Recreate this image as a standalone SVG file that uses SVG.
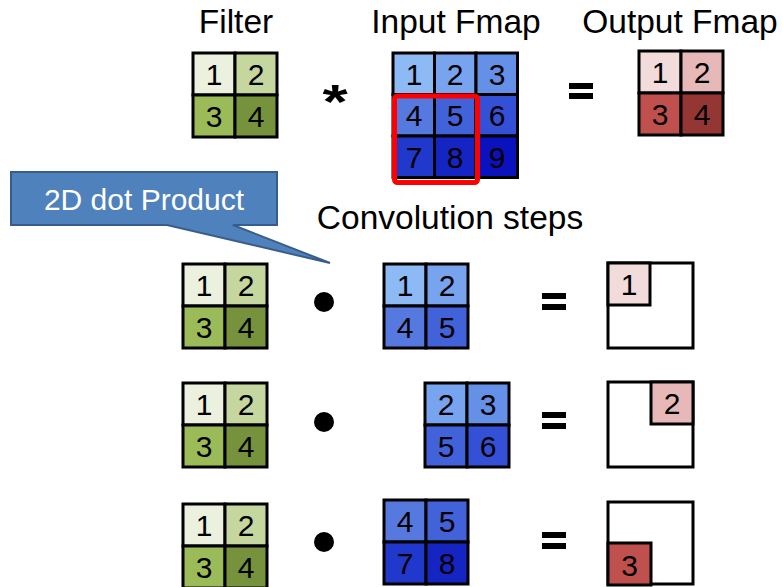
<svg xmlns="http://www.w3.org/2000/svg" width="783" height="587" viewBox="0 0 783 587">
<style>
.t{font-family:"Liberation Sans",Arial,sans-serif;fill:#000}
.title{font-size:33.5px;text-anchor:middle}
.n{font-size:30px;text-anchor:middle}
.c{stroke:#000;stroke-width:3}
.box{fill:#fff;stroke:#000;stroke-width:3}
.g1{fill:#EBF1DE}.g2{fill:#C5D69F}.g3{fill:#9BBB59}.g4{fill:#76923C}
.b1{fill:#8DB9F5}.b2{fill:#78A3EE}.b3{fill:#6490E8}.b4{fill:#5679E0}.b5{fill:#4262DA}.b6{fill:#3450D6}.b7{fill:#2039CC}.b8{fill:#1425C4}.b9{fill:#0A12BE}
.r1{fill:#F2DCDB}.r2{fill:#E6B9B8}.r3{fill:#C0504D}.r4{fill:#943634}
.eq{fill:#000}
</style>

<g id="titles">
<text class="t title" x="236" y="33">Filter</text>
<text class="t title" x="456" y="33">Input Fmap</text>
<text class="t title" x="680" y="33">Output Fmap</text>
<text class="t title" x="450" y="229">Convolution steps</text>
</g>

<!-- Top filter -->
<g id="filter-top">
<rect class="c g1" x="193" y="53" width="42" height="42"/>
<rect class="c g2" x="235" y="53" width="42" height="42"/>
<rect class="c g3" x="193" y="95" width="42" height="42"/>
<rect class="c g4" x="235" y="95" width="42" height="42"/>
<text class="t n" x="214" y="85">1</text><text class="t n" x="256" y="85">2</text>
<text class="t n" x="214" y="127">3</text><text class="t n" x="256" y="127">4</text>
</g>

<g id="op-conv"><text class="t" transform="translate(335,118) scale(1.35,1)" x="0" y="0" font-size="48" font-weight="bold" text-anchor="middle">*</text></g>

<!-- Top input fmap -->
<g id="input-top">
<rect class="c b1" x="393" y="53" width="41.5" height="41.5"/>
<rect class="c b2" x="434.5" y="53" width="41.5" height="41.5"/>
<rect class="c b3" x="476" y="53" width="41.5" height="41.5"/>
<rect class="c b4" x="393" y="94.5" width="41.5" height="41.5"/>
<rect class="c b5" x="434.5" y="94.5" width="41.5" height="41.5"/>
<rect class="c b6" x="476" y="94.5" width="41.5" height="41.5"/>
<rect class="c b7" x="393" y="136" width="41.5" height="41.5"/>
<rect class="c b8" x="434.5" y="136" width="41.5" height="41.5"/>
<rect class="c b9" x="476" y="136" width="41.5" height="41.5"/>
<text class="t n" x="414" y="85">1</text><text class="t n" x="455" y="85">2</text><text class="t n" x="497" y="85">3</text>
<text class="t n" x="414" y="126">4</text><text class="t n" x="455" y="126">5</text><text class="t n" x="497" y="126">6</text>
<text class="t n" x="414" y="168">7</text><text class="t n" x="455" y="168">8</text><text class="t n" x="497" y="168">9</text>
<rect x="394.5" y="96" width="83" height="86.5" rx="3" fill="none" stroke="#FF0000" stroke-width="5"/>
</g>

<g id="eq-top" class="eq"><rect x="569" y="83" width="24" height="6"/><rect x="569" y="93" width="24" height="6"/></g>

<!-- Top output -->
<g id="output-top">
<rect class="c r1" x="639" y="51" width="42" height="42"/>
<rect class="c r2" x="681" y="51" width="42" height="42"/>
<rect class="c r3" x="639" y="93" width="42" height="42"/>
<rect class="c r4" x="681" y="93" width="42" height="42"/>
<text class="t n" x="660" y="83">1</text><text class="t n" x="702" y="83">2</text>
<text class="t n" x="660" y="125">3</text><text class="t n" x="702" y="125">4</text>
</g>

<!-- Callout -->
<g id="callout">
<path d="M11,172 H277 V225 H233 L330,263 L167,225 H11 Z" fill="#4F81BD" stroke="#385D8A" stroke-width="2" stroke-linejoin="miter"/>
<text class="t" x="144" y="210" font-size="30" text-anchor="middle" style="fill:#fff">2D dot Product</text>
</g>

<!-- Row 1 -->
<g id="filter-r1">
<rect class="c g1" x="183" y="264" width="42" height="42"/>
<rect class="c g2" x="225" y="264" width="42" height="42"/>
<rect class="c g3" x="183" y="306" width="42" height="42"/>
<rect class="c g4" x="225" y="306" width="42" height="42"/>
<text class="t n" x="204" y="296">1</text><text class="t n" x="246" y="296">2</text>
<text class="t n" x="204" y="338">3</text><text class="t n" x="246" y="338">4</text>
</g>
<g id="dot-r1"><circle cx="324" cy="302" r="10" fill="#000"/></g>
<g id="input-r1">
<rect class="c b1" x="384" y="264" width="42" height="42"/>
<rect class="c b2" x="426" y="264" width="42" height="42"/>
<rect class="c b4" x="384" y="306" width="42" height="42"/>
<rect class="c b5" x="426" y="306" width="42" height="42"/>
<text class="t n" x="405" y="296">1</text><text class="t n" x="447" y="296">2</text>
<text class="t n" x="405" y="338">4</text><text class="t n" x="447" y="338">5</text>
</g>
<g id="eq-r1" class="eq"><rect x="542" y="293" width="24" height="6"/><rect x="542" y="304" width="24" height="6"/></g>
<g id="output-r1">
<rect class="box" x="608" y="263" width="85" height="85"/>
<rect class="c r1" x="608" y="263" width="42" height="42"/>
<text class="t n" x="629" y="295">1</text>
</g>

<!-- Row 2 -->
<g id="filter-r2">
<rect class="c g1" x="183" y="383" width="42" height="42"/>
<rect class="c g2" x="225" y="383" width="42" height="42"/>
<rect class="c g3" x="183" y="425" width="42" height="42"/>
<rect class="c g4" x="225" y="425" width="42" height="42"/>
<text class="t n" x="204" y="415">1</text><text class="t n" x="246" y="415">2</text>
<text class="t n" x="204" y="457">3</text><text class="t n" x="246" y="457">4</text>
</g>
<g id="dot-r2"><circle cx="324" cy="422" r="10" fill="#000"/></g>
<g id="input-r2">
<rect class="c b2" x="425" y="383" width="42" height="42"/>
<rect class="c b3" x="467" y="383" width="42" height="42"/>
<rect class="c b5" x="425" y="425" width="42" height="42"/>
<rect class="c b6" x="467" y="425" width="42" height="42"/>
<text class="t n" x="446" y="415">2</text><text class="t n" x="488" y="415">3</text>
<text class="t n" x="446" y="457">5</text><text class="t n" x="488" y="457">6</text>
</g>
<g id="eq-r2" class="eq"><rect x="542" y="412" width="24" height="6"/><rect x="542" y="423" width="24" height="6"/></g>
<g id="output-r2">
<rect class="box" x="608" y="382" width="85" height="85"/>
<rect class="c r2" x="651" y="382" width="42" height="42"/>
<text class="t n" x="672" y="414">2</text>
</g>

<!-- Row 3 -->
<g id="filter-r3">
<rect class="c g1" x="183" y="504" width="42" height="42"/>
<rect class="c g2" x="225" y="504" width="42" height="42"/>
<rect class="c g3" x="183" y="546" width="42" height="42"/>
<rect class="c g4" x="225" y="546" width="42" height="42"/>
<text class="t n" x="204" y="536">1</text><text class="t n" x="246" y="536">2</text>
<text class="t n" x="204" y="578">3</text><text class="t n" x="246" y="578">4</text>
</g>
<g id="dot-r3"><circle cx="324" cy="542" r="10" fill="#000"/></g>
<g id="input-r3">
<rect class="c b4" x="384" y="500" width="42" height="42"/>
<rect class="c b5" x="426" y="500" width="42" height="42"/>
<rect class="c b7" x="384" y="542" width="42" height="42"/>
<rect class="c b8" x="426" y="542" width="42" height="42"/>
<text class="t n" x="405" y="532">4</text><text class="t n" x="447" y="532">5</text>
<text class="t n" x="405" y="574">7</text><text class="t n" x="447" y="574">8</text>
</g>
<g id="eq-r3" class="eq"><rect x="542" y="532" width="24" height="6"/><rect x="542" y="543" width="24" height="6"/></g>
<g id="output-r3">
<rect class="box" x="608" y="502" width="85" height="82"/>
<rect class="c r3" x="608" y="543" width="43" height="42"/>
<text class="t n" x="629.5" y="576">3</text>
</g>
</svg>
